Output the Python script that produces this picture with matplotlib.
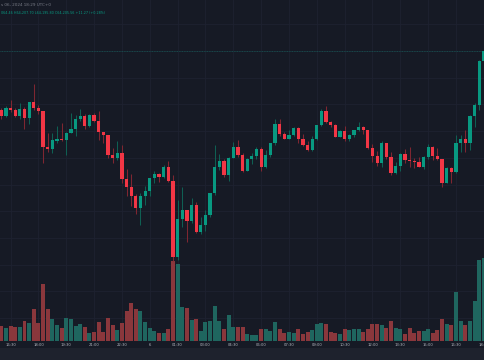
import numpy as np
import pandas as pd
import matplotlib
matplotlib.use("Agg")
import matplotlib.pyplot as plt
from matplotlib.patches import Rectangle

# 15-minute candles, price in chart units (no price scale visible)
opens = [190, 183.7, 192, 190, 184, 191, 182.3, 198, 192.3, 189,
         153.3, 151.3, 159.3, 161, 160, 167.3, 171, 180.7, 183.7, 174.3,
         184.7, 179, 167.7, 165, 145, 142, 147.3, 121, 112.7, 104.3,
         92.3, 104.3, 109, 122, 125.7, 123, 133, 119.3, 43.3, 81,
         89.7, 79.3, 94.7, 68, 75, 84.7, 106.7, 133.3, 138.7, 124.7,
         142.3, 153, 144.7, 129.3, 141.3, 144, 151, 132.7, 145, 156.7,
         175.7, 166, 161.3, 165, 172.3, 161.3, 155.3, 150, 161, 175,
         189, 178.3, 175, 163.3, 169, 160.7, 165, 170, 173.3, 169.7,
         152.3, 144, 137, 157.3, 143.3, 127.3, 134.3, 146, 140, 138.7,
         138, 133, 142.7, 153, 144, 140.7, 117.3, 132, 128, 156.7,
         160.7, 157, 184, 194.7, 239.3]
highs = [192, 193.7, 200.3, 192.3, 196.7, 193.3, 198, 216, 194.7, 189,
         166.7, 167.3, 173.7, 176.7, 168, 187.3, 184.7, 191.3, 186.3, 186,
         186.7, 189.3, 167.7, 165, 152, 159.3, 155, 130.7, 126, 106,
         107.3, 114, 122, 128.7, 126.7, 135.3, 138.7, 125, 100, 112.7,
         89.7, 102.3, 98, 83.3, 90, 107.3, 155, 146, 141.3, 143.3,
         158.3, 160, 147, 142, 147.3, 152.7, 153.3, 150, 157.3, 181.3,
         181.3, 168, 170, 173.3, 172.7, 166, 158.7, 164, 175, 190.7,
         194, 179, 176.3, 170, 174, 166, 170, 178, 174, 170.3,
         156, 149, 158.7, 157.3, 148, 137.7, 146.7, 150.7, 153.3, 141.7,
         142.7, 144, 155.7, 154.3, 152, 141.3, 132.7, 133.3, 164.7, 164.7,
         170, 184.7, 196.7, 240, 260]
lows = [181.3, 182.7, 187.7, 182.7, 181.3, 171.3, 175.7, 189.7, 186, 137.3,
        148.3, 146.7, 157.3, 159, 145, 166.7, 164.3, 179.3, 171, 173.3,
        177.7, 160, 157.3, 142.3, 136.7, 140, 116.7, 104, 94.3, 85.7,
        75.3, 95, 104, 116.7, 118, 122, 118, 39, 40, 73.3,
        57.7, 76.7, 67.3, 66, 69, 83.3, 105, 130, 122.7, 119.3,
        142, 143.3, 128, 128.7, 136, 141.3, 129.3, 132, 143.3, 155.3,
        164, 160.7, 160.7, 164, 156.7, 154, 149.3, 149.3, 160, 174,
        177.3, 172.7, 162.7, 162.7, 159.3, 158.7, 163.3, 169.3, 166, 151.3,
        138, 134.3, 133.3, 140.7, 124.7, 126, 129.3, 137.3, 132.7, 132,
        132.7, 130.7, 141.3, 140, 140, 113.3, 116.7, 117.3, 127.3, 148,
        148, 150, 172.7, 190, 238.7]
closes = [184, 192, 189.7, 183.7, 191, 182.3, 198, 192.3, 189, 153.3,
          151.3, 160, 161, 160, 167.3, 171, 180.7, 183.7, 174.3, 184.7,
          179, 167.7, 165, 145, 142, 147.3, 121, 112.7, 104.3, 92.3,
          104.3, 109, 122, 125.7, 123, 133, 119.3, 43.3, 81, 89.7,
          79.3, 94.7, 68, 75, 84.7, 106.7, 133.3, 138.7, 124.7, 142.3,
          153, 144.7, 129.3, 141.3, 144, 151, 132.7, 145, 156.7, 175.7,
          166, 161.3, 165, 172.3, 161.3, 155.3, 150, 161, 175, 189,
          178.3, 175, 163.3, 169, 160.7, 165, 170, 173.3, 169.7, 152.3,
          144, 137, 157.3, 143.3, 127.3, 134.3, 146, 140, 138.7, 138,
          133, 142.7, 153, 144, 140.7, 117.3, 132, 128, 156.7, 160.7,
          157, 184, 194.7, 239.3, 248.7]
volumes = [15.3, 12.7, 15.3, 14.3, 14.3, 19.7, 18, 31.7, 18.3, 57,
           32, 22.3, 16.3, 13, 22.7, 22, 15, 17.3, 14, 8,
           9.3, 18.7, 9, 23.3, 16.3, 10.7, 18, 30, 38, 32,
           30, 18.7, 13.3, 10, 8, 8, 12, 80.3, 76.7, 34,
           33, 21.3, 21.7, 10, 18.7, 20.3, 35, 20.3, 12, 26,
           14.3, 14.3, 14.5, 7.3, 6.3, 5.7, 12, 11.7, 10, 19,
           12.3, 7.7, 9.3, 8, 11.7, 7.3, 9.3, 11.3, 17.3, 18,
           16.7, 9, 8, 7.3, 12.3, 11, 12, 12, 9.3, 12.3,
           17, 16.7, 16, 13.3, 20, 13.3, 12, 7.3, 13, 8,
           10.3, 10.3, 12.3, 8, 11.3, 22, 17, 15.7, 48.7, 19.7,
           15.7, 20, 40.3, 81, 83]
start_time = "2024-06-05 16:00"
header_date = "s 06, 2024 18:29 UTC+0"
header_ohlc = "064.46 H64,207.70 L64,195.80 C64,205.56 +11.27 (+0.28%)"

BG = "#161a25"
GRID = "#1e2230"
UP, DOWN = "#089981", "#f23645"
UP_WICK, DOWN_WICK = "#0f5f53", "#7f2631"
UP_VOL, DOWN_VOL = "#1f665f", "#8a373c"

o = np.array(opens)
h = np.array(highs)
l = np.array(lows)
c = np.array(closes)
x = np.arange(len(o))
up = c >= o
times = pd.date_range(start_time, periods=len(o), freq="15min")

fig = plt.figure(figsize=(4.85, 3.6), dpi=100, facecolor=BG)
rect = [0, 19 / 360, 1, 341 / 360]
ax_vol = fig.add_axes(rect, facecolor=BG)
ax = fig.add_axes(rect, sharex=ax_vol, facecolor="none")

# volume pane behind the candles
ax_vol.bar(x, volumes, width=0.86, color=np.where(up, UP_VOL, DOWN_VOL),
           linewidth=0, zorder=2)
ax_vol.set_ylim(0, 341)
ax_vol.set_yticks(np.arange(23, 341, 26.7))
ax_vol.set_yticklabels([])

ticks = x[2::6]
labels = ["6" if (t.hour == 0 and t.minute == 0) else t.strftime("%H:%M")
          for t in times[ticks]]
ax_vol.set_xticks(ticks)
ax_vol.set_xticklabels(labels)
ax_vol.set_xlim(-0.28, 104.25)
ax_vol.grid(True, color=GRID, linewidth=0.6, zorder=0)
ax_vol.tick_params(length=0, labelsize=2.7, labelcolor="#b2b5be", pad=1.6,
                   left=False, labelleft=False)

# candles
ax.vlines(x, l, h, colors=np.where(up, UP_WICK, DOWN_WICK), linewidth=0.75, zorder=2)
body = np.maximum(np.abs(c - o), 0.6)
ax.bar(x, body, bottom=np.minimum(o, c), width=0.7,
       color=np.where(up, UP, DOWN), linewidth=0, zorder=3)
ax.axhline(c[-1], color=UP, linewidth=0.6, linestyle=(0, (1, 1)), alpha=0.45, zorder=1)
ax.set_ylim(-41, 300)
ax.tick_params(left=False, bottom=False, labelleft=False, labelbottom=False)

for a in (ax, ax_vol):
    for s in a.spines.values():
        s.set_visible(False)

# header bar and bottom strip
fig.patches.append(Rectangle((0, 352 / 360), 1, 8 / 360, transform=fig.transFigure,
                             facecolor="#1b1f2a", edgecolor="none", zorder=-1))
fig.patches.append(Rectangle((0, 0), 1, 12 / 360, transform=fig.transFigure,
                             facecolor="#1e222d", edgecolor="none", zorder=-1))
fig.text(1 / 485, 1 - 4.5 / 360, header_date, fontsize=3, color="#787b86", va="center")
fig.text(1 / 485, 1 - 12.5 / 360, header_ohlc, fontsize=2.4, color=UP, va="center")

fig.savefig("out.png", dpi=100, facecolor=BG)
